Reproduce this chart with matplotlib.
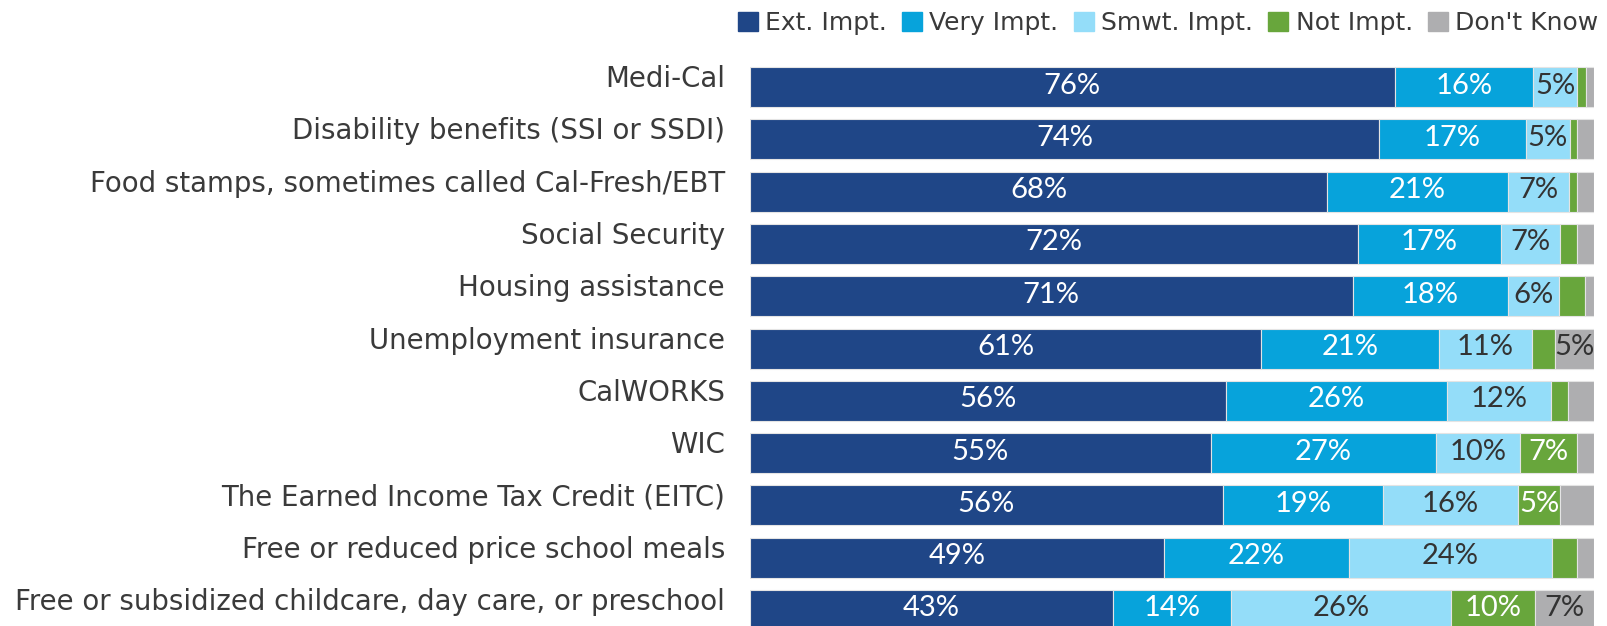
import numpy as np
import matplotlib
matplotlib.use("Agg")
import matplotlib.pyplot as plt
import matplotlib.patches as mpatches
from matplotlib.transforms import ScaledTranslation

programs = ["Medi-Cal",
            "Disability benefits (SSI or SSDI)",
            "Food stamps, sometimes called Cal-Fresh/EBT",
            "Social Security",
            "Housing assistance",
            "Unemployment insurance",
            "CalWORKS",
            "WIC",
            "The Earned Income Tax Credit (EITC)",
            "Free or reduced price school meals",
            "Free or subsidized childcare, day care, or preschool"]

ext_impt  = [76.4, 74.5, 68.4, 72.0, 71.4, 60.6, 56.4, 54.6, 56.0, 49.0, 43.0]
very_impt = [16.4, 17.4, 21.4, 17.0, 18.4, 21.0, 26.2, 26.7, 19.0, 22.0, 14.0]
smwt_impt = [5.2, 5.2, 7.2, 7.0, 6.1, 11.0, 12.3, 9.9, 16.0, 24.0, 26.0]
not_impt  = [1.0, 0.9, 1.0, 2.0, 3.0, 2.8, 2.0, 6.8, 5.0, 3.0, 10.0]
dont_know = [1.0, 2.0, 2.0, 2.0, 1.1, 4.6, 3.1, 2.0, 4.0, 2.0, 7.0]

series_names = ["Ext. Impt.", "Very Impt.", "Smwt. Impt.", "Not Impt.", "Don't Know"]
colors = ["#1f4687", "#07a3db", "#94ddf9", "#68a63c", "#aeaeb0"]
text_colors = ["white", "white", "#333333", "white", "#333333"]

label_font = "DejaVu Sans"
num_font = "Lato"

fig = plt.figure(figsize=(16.08, 6.26), dpi=100)
ax = fig.add_axes([750 / 1608, 0.0, 844 / 1608, 1 - 61 / 626])

series = [ext_impt, very_impt, smwt_impt, not_impt, dont_know]
y = np.arange(len(programs))
left = np.zeros(len(programs))
for vals, name, col, tcol in zip(series, series_names, colors, text_colors):
    vals = np.array(vals)
    ax.barh(y, vals, left=left, height=0.765, color=col, label=name,
            edgecolor="#e4e4e4", linewidth=0.8)
    for yi, (l, v) in enumerate(zip(left, vals)):
        if round(v) >= 5:
            ax.text(l + v / 2, yi - 0.03, f"{round(v)}%", ha="center", va="center",
                    color=tcol, fontsize=21, family=num_font)
    left += vals

ax.set_xlim(0, 100)
ax.set_ylim(10.306, -0.5)
ax.set_yticks(y)
ax.set_yticklabels(programs, fontsize=19.9, family=label_font, color="#3a3a3a")
ax.tick_params(axis="y", length=0, pad=18)
# labels sit a little above the bar centre
shift = ScaledTranslation(0, 11 / 100, fig.dpi_scale_trans)
for lab in ax.get_yticklabels():
    lab.set_transform(lab.get_transform() + shift)
ax.set_xticks([])
for s in ax.spines.values():
    s.set_visible(False)

handles = [mpatches.Patch(color=c) for c in colors]
fig.legend(handles, series_names, loc="upper right", bbox_to_anchor=(1.005, 1.01),
           ncol=5, frameon=False, handlelength=0.8, handleheight=0.8,
           handletextpad=0.3, columnspacing=0.6, borderpad=0.2,
           prop={"family": label_font, "size": 18}, labelcolor="#3a3a3a")

fig.savefig("out.png", dpi=100)
